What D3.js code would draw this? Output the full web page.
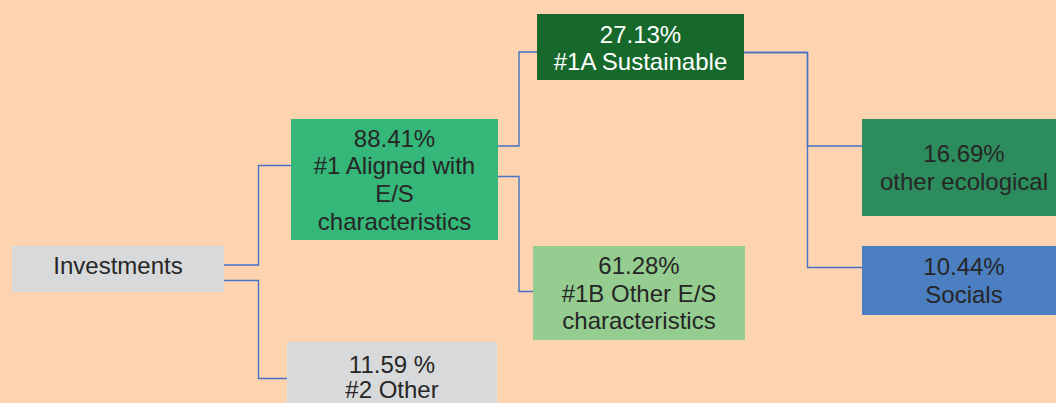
<!DOCTYPE html>
<html>
<head>
<meta charset="utf-8">
<script src="https://cdn.jsdelivr.net/npm/d3@7"></script>
<style>
  html, body { margin: 0; padding: 0; background: #fed3b0; }
  svg { display: block; }
  text { font-family: "Liberation Sans", Arial, sans-serif; font-size: 24px; }
</style>
</head>
<body>
<div id="chart"></div>
<script>
// nodes of the allocation tree
const nodeIds     = ["inv", "n1", "n2", "n1a", "n1b", "eco", "soc"];
const nodeParents = ["", "inv", "inv", "n1", "n1", "n1a", "n1a"];
const nodeShares  = ["", "88.41%", "11.59 %", "27.13%", "61.28%", "16.69%", "10.44%"];
const nodeLabels  = [
  ["Investments"],
  ["#1 Aligned with", "E/S", "characteristics"],
  ["#2 Other"],
  ["#1A Sustainable"],
  ["#1B Other E/S", "characteristics"],
  ["other ecological"],
  ["Socials"]
];

// layout of the boxes (left, top, width, height, text shift) and colours
const layout = {
  inv: {x: 12,  y: 246, w: 212, h: 46,  dy: -3.5, fill: "#d8d9db", ink: "#262626"},
  n1:  {x: 291, y: 119, w: 207, h: 121, dy: 0,    fill: "#35b779", ink: "#262626"},
  n2:  {x: 287, y: 342, w: 210, h: 80,  dy: -5,   lh: 25.5, fill: "#d8d9db", ink: "#262626"},
  n1a: {x: 537, y: 14,  w: 207, h: 66,  dy: 1,    fill: "#16692b", ink: "#ffffff"},
  n1b: {x: 533, y: 246, w: 212, h: 94,  dy: 0,    fill: "#95cd91", ink: "#262626"},
  eco: {x: 862, y: 119, w: 204, h: 97,  dy: 0,    fill: "#2c8c5c", ink: "#262626"},
  soc: {x: 862, y: 246, w: 204, h: 69,  dy: 0,    fill: "#4b7fc1", ink: "#262626"}
};
// connector anchors: exit y on parent, elbow x, entry y on child, end x
const linkGeo = {
  n1:  {y0: 265,   mx: 258.5, y1: 165.5, x1: 293},
  n2:  {y0: 280.5, mx: 258.5, y1: 378.5, x1: 293},
  n1a: {y0: 146,   mx: 519,   y1: 52,    x1: 540},
  n1b: {y0: 176.5, mx: 519,   y1: 291.5, x1: 540},
  eco: {y0: 52.5,  mx: 807.5, y1: 146,   x1: 875},
  soc: {y0: 52.5,  mx: 807.5, y1: 267.5, x1: 867}
};

const width = 1056, height = 403;
const lineH = 27.7;

const table = nodeIds.map((id, i) => ({
  id: id,
  parent: nodeParents[i] || null,
  lines: nodeShares[i] ? [nodeShares[i]].concat(nodeLabels[i]) : nodeLabels[i]
}));
const root = d3.stratify().id(d => d.id).parentId(d => d.parent)(table);

const svg = d3.select("#chart").append("svg")
    .attr("width", width)
    .attr("height", height);

// connectors
svg.append("g").selectAll("path")
  .data(root.links())
  .enter().append("path")
    .attr("fill", "none")
    .attr("stroke", "#4472c4")
    .attr("stroke-width", 1.4)
    .attr("d", function(l) {
      const p = layout[l.source.id], g = linkGeo[l.target.id];
      return d3.line()([[p.x + p.w, g.y0], [g.mx, g.y0], [g.mx, g.y1], [g.x1, g.y1]]);
    });

// boxes
const nodes = svg.append("g").selectAll("g")
  .data(root.descendants())
  .enter().append("g")
    .attr("transform", d => `translate(${layout[d.id].x},${layout[d.id].y})`);

nodes.append("rect")
    .attr("width", d => layout[d.id].w)
    .attr("height", d => layout[d.id].h)
    .attr("fill", d => layout[d.id].fill);

nodes.each(function(d) {
  const b = layout[d.id];
  const n = d.data.lines.length;
  const lh = b.lh || lineH;
  const txt = d3.select(this).append("text")
      .attr("text-anchor", "middle")
      .attr("fill", b.ink);
  d.data.lines.forEach(function(line, i) {
    txt.append("tspan")
      .attr("x", b.w / 2)
      .attr("y", b.h / 2 + (i - (n - 1) / 2) * lh + 8.6 + b.dy)
      .text(line);
  });
});
</script>
</body>
</html>
